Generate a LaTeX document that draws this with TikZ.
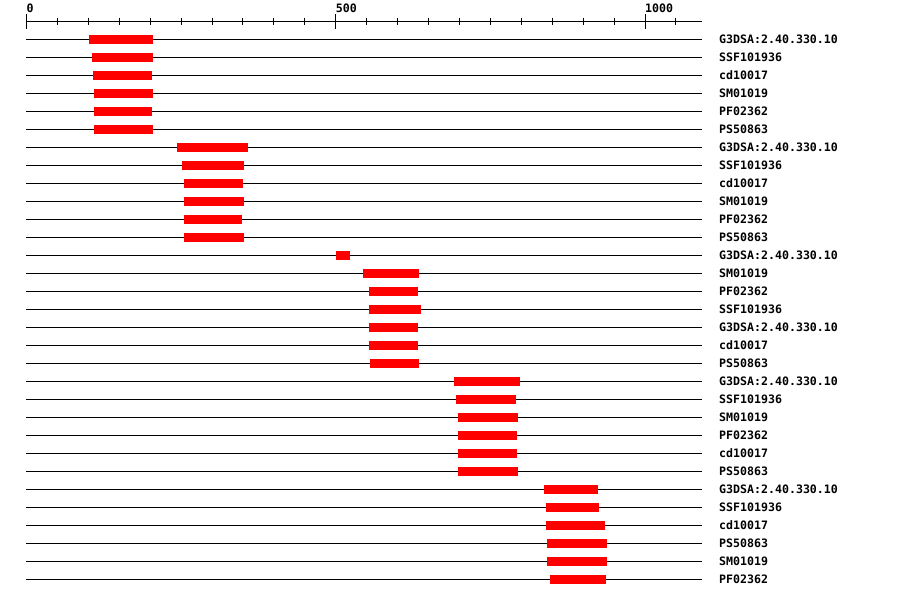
\documentclass[tikz,border=0pt]{standalone}
\usepackage{fontspec}
\setmonofont{DejaVu Sans Mono}
\begin{document}
\begin{tikzpicture}[x=1pt,y=-1pt,
  track/.style={draw=black,line width=1pt},
  bar/.style={fill=red},
  lbl/.style={anchor=base west,inner sep=0pt,font=\ttfamily\bfseries\fontsize{11.6}{12}\selectfont},
  axisline/.style={draw=black,line width=1pt}]
\useasboundingbox (0,0) rectangle (900,598);
% axis
\coordinate (axL) at (26,21);
\coordinate (axR) at (702,21);
\draw[axisline] (axL) -- (axR);
\foreach \u in {50,100,...,1050}{
  \draw[axisline] ({26.5+\u*0.6185},17.5) -- ({26.5+\u*0.6185},24.5);
}
\foreach \u/\n in {0/a0,500/a500,1000/a1000}{
  \draw[axisline] ({26.5+\u*0.6185},14) -- ({26.5+\u*0.6185},29);
  \node[lbl] (\n) at ({26.5+\u*0.6185},12) {\u};
}
% tracks
\foreach \i/\a/\b/\t in {
 0/89/153/G3DSA:2.40.330.10,
 1/92/153/SSF101936,
 2/93/152/cd10017,
 3/94/153/SM01019,
 4/94/152/PF02362,
 5/94/153/PS50863,
 6/177/248/G3DSA:2.40.330.10,
 7/182/244/SSF101936,
 8/184/243/cd10017,
 9/184/244/SM01019,
 10/184/242/PF02362,
 11/184/244/PS50863,
 12/336/350/G3DSA:2.40.330.10,
 13/363/419/SM01019,
 14/369/418/PF02362,
 15/369/421/SSF101936,
 16/369/418/G3DSA:2.40.330.10,
 17/369/418/cd10017,
 18/370/419/PS50863,
 19/454/520/G3DSA:2.40.330.10,
 20/456/516/SSF101936,
 21/458/518/SM01019,
 22/458/517/PF02362,
 23/458/517/cd10017,
 24/458/518/PS50863,
 25/544/598/G3DSA:2.40.330.10,
 26/546/599/SSF101936,
 27/546/605/cd10017,
 28/547/607/PS50863,
 29/547/607/SM01019,
 30/550/606/PF02362}{
  \pgfmathsetmacro{\yy}{39.3+18*\i}
  \coordinate (tl\i) at (26,\yy);
  \coordinate (tr\i) at (702,\yy);
  \draw[track] (tl\i) -- (tr\i);
  \fill[bar] (\a,\yy-4.5) rectangle (\b,\yy+4.5);
  \node[lbl] (lab\i) at (719,\yy+4.2) {\t};
}
\end{tikzpicture}
\end{document}
